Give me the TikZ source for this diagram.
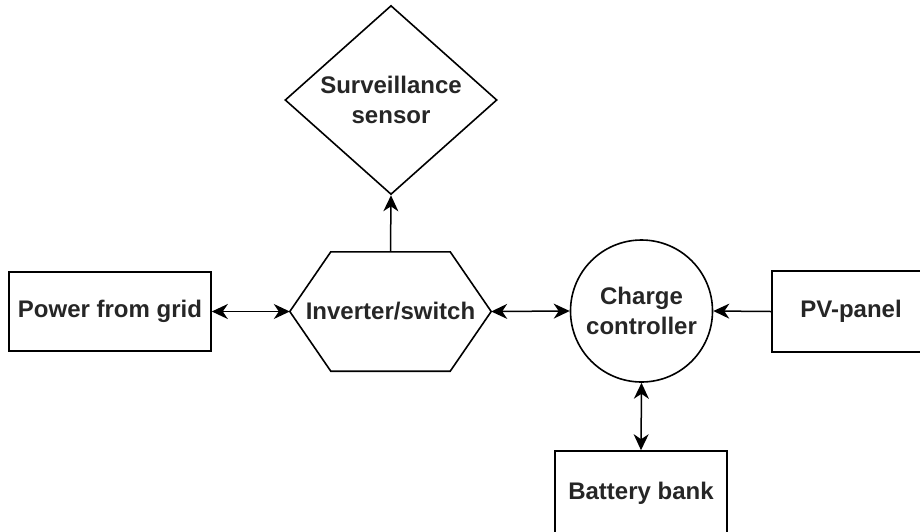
\documentclass[tikz,border=0pt]{standalone}
\usepackage{fontspec}
\setmainfont{Liberation Sans}
\usetikzlibrary{shapes.geometric,arrows.meta}

\begin{document}
\begin{tikzpicture}[
  x=1pt, y=-1pt,
  >={Stealth[length=16pt,width=15pt,inset=5pt]},
  every node/.style={inner sep=0pt, align=center, font=\fontsize{24}{30}\selectfont\bfseries, text=black!85},
  box/.style={draw, line width=1.6pt, rectangle},
  outline/.style={draw, line width=1.6pt, line join=miter},
  link/.style={line width=1.5pt, ->},
  twolink/.style={line width=1.5pt, <->}
]
\useasboundingbox (0,0) rectangle (920,531);

% Sources and storage
\node[box, minimum width=202pt, minimum height=79pt] (grid) at (110,311.5) {Power from grid};
\node[box, minimum width=158pt, minimum height=81pt] (pv) at (851,311.5) {PV-panel};
\node[box, minimum width=172pt, minimum height=84pt] (battery) at (641,493) {Battery bank};

% Inverter (hexagon drawn from its node)
\node[minimum width=201pt, minimum height=119pt] (inverter) at (390.5,311.5) {Inverter/switch};
\draw[outline] (inverter.west) -- ([xshift=41pt]inverter.north west) -- ([xshift=-41pt]inverter.north east)
  -- (inverter.east) -- ([xshift=-41pt]inverter.south east) -- ([xshift=41pt]inverter.south west) -- cycle;

% Sensor and controller
\node[outline, diamond, minimum width=212pt, minimum height=180pt] (sensor) at (391,100) {Surveillance\\sensor};
\node[outline, circle, minimum size=142pt] (controller) at (641.5,311) {Charge\\controller};

% Connectors
\draw[twolink] (grid.east) -- (inverter.west);
\draw[twolink] (inverter.east) -- (controller.west);
\draw[link] (pv.west) -- (controller.east);
\draw[twolink] (controller.south) -- (battery.north);
\draw[link] (inverter.north) -- (sensor.south);
\end{tikzpicture}
\end{document}
